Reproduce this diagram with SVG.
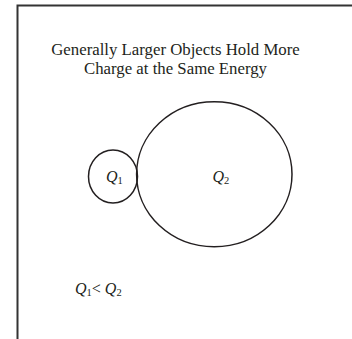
<svg xmlns="http://www.w3.org/2000/svg" width="352" height="339" viewBox="0 0 352 339">
<style>
.t{font-family:"Liberation Serif","Times New Roman",serif;fill:#231f20;}
.title{font-size:16.8px;text-anchor:middle;}
.q{font-size:16px;font-style:italic;}
.s{font-size:10.5px;font-style:normal;}
.o{fill:none;stroke:#231f20;stroke-width:1.5;}
</style>
<rect width="352" height="339" fill="#fff"/>
<g id="frame"><path d="M17.5 339 V5.5 H352" fill="none" stroke="#333" stroke-width="2"/></g>
<g id="title">
<text class="t title" x="175.5" y="54.5">Generally Larger Objects Hold More</text>
<text class="t title" x="175.5" y="73.5">Charge at the Same Energy</text>
</g>
<g id="small">
<ellipse class="o" cx="113" cy="176.5" rx="24.5" ry="26.5"/>
<text class="t q" x="106" y="182">Q<tspan class="s" dy="2">1</tspan></text>
</g>
<g id="big">
<ellipse class="o" cx="214.3" cy="174.2" rx="77.7" ry="72.5"/>
<text class="t q" x="212.5" y="181.5">Q<tspan class="s" dy="2">2</tspan></text>
</g>
<g id="relation">
<text class="t q" x="75" y="293.5">Q<tspan class="s" dy="2">1</tspan><tspan dy="-2" font-style="normal">&lt; </tspan>Q<tspan class="s" dy="2">2</tspan></text>
</g>
</svg>
